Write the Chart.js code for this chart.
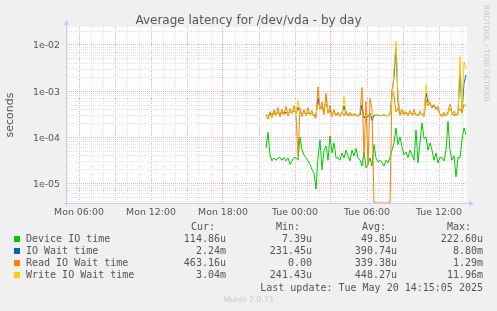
<!DOCTYPE html>
<html>
<head>
<meta charset="utf-8">
<script src="https://cdn.jsdelivr.net/npm/chart.js@4.4.1/dist/chart.umd.min.js"></script>
<style>
  html, body { margin:0; padding:0; }
  body { width:497px; height:311px; background:#f0f0f0; position:relative; overflow:hidden; font-family:"DejaVu Sans", sans-serif; }
  #c { position:absolute; left:0; top:0; }
  .t { position:absolute; white-space:pre; }
  #title { left:0; width:497px; top:13px; text-align:center; font-size:12px; color:#555; }
  #rrd { left:482px; top:5px; writing-mode:vertical-rl; font-size:7.5px; color:#c8c8c8; }
  .mono { font-family:"DejaVu Sans Mono", monospace; font-size:10px; color:#555; line-height:12px; }
  .sw { position:absolute; width:6px; height:6px; }
  .r { text-align:right; }
  #munin { left:0; width:497px; top:295px; text-align:center; font-size:7.6px; color:#c8c8c8; }
</style>
</head>
<body>
<canvas id="c" width="497" height="311"></canvas>
<div id="title" class="t">Average latency for /dev/vda - by day</div>
<div id="rrd" class="t">RRDTOOL / TOBI OETIKER</div>
<div id="legend"></div>
<div id="munin" class="t">Munin 2.0.73</div>
<script>
// ---------- data (values in microseconds) ----------
const seriesNames = ["Device IO time", "IO Wait time", "Read IO Wait time", "Write IO Wait time"];
const seriesColors = ["#00cc00", "#0066b3", "#ff8000", "#ffcc00"];
const startHour = 21 + 35/60;   // Mon 21:35 (hours since Mon 00:00)
const stepHours = 10/60;        // one sample every 10 minutes

const deviceIO = [59,130,42,31,36,32,36,37,32,37,31,36,26,31,37,36,32,102,53,42,36,31,26,20,17,7.6,37,88,20,53,65,32,107,46,76,36,36,32,46,36,53,40,31,53,40,58,36,32,24,48,22,26,36,24,70,36,29,32,29,24,32,28,37,53,76,160,70,102,62,42,48,37,53,42,32,145,28,76,206,95,102,53,76,53,32,46,28,37,36,31,53,223,53,32,40,14,37,36,88,160,115];
const ioWait = [290,300,310,320,330,330,340,320,340,330,350,320,360,340,380,330,450,340,320,350,310,340,340,320,300,300,700,420,450,380,650,350,380,310,340,310,320,300,330,480,320,300,310,300,300,310,290,300,500,260,300,280,330,231,300,300,310,290,300,310,290,300,310,900,2000,8800,600,340,320,360,330,320,340,310,320,320,300,330,310,320,900,600,520,460,480,440,400,310,300,310,300,330,500,320,300,310,320,3000,360,1500,2240];
const readIO = [300,250,360,270,400,300,440,280,410,320,470,290,420,330,490,300,40,440,280,400,290,440,310,380,280,260,1250,400,580,310,900,330,500,280,400,290,350,280,360,290,380,300,350,290,330,310,280,340,1200,40,600,25,700,400,0,0,0,0,0,0,0,0,0,1100,800,350,440,300,400,310,360,290,380,300,400,310,290,370,310,280,650,480,580,430,500,400,470,300,280,350,290,360,520,310,370,290,350,420,330,520,463.16];
const writeIO = [270,310,280,330,300,350,310,360,320,300,340,310,370,330,400,320,620,330,310,350,300,330,360,310,300,320,520,450,380,420,600,380,340,310,330,300,310,300,320,780,330,300,310,290,300,310,290,300,320,300,290,310,300,280,310,300,320,290,300,310,290,300,310,700,3000,11960,800,350,320,380,330,310,340,300,320,310,300,330,310,320,1400,700,550,480,520,460,400,300,290,310,300,320,480,310,290,300,320,5600,380,4400,3040];
const allSeries = [deviceIO, ioWait, readIO, writeIO];

// ---------- axis ticks ----------
const xTickHours = [6, 12, 18, 24, 30, 36];
const xTickLabels = ["Mon 06:00", "Mon 12:00", "Mon 18:00", "Tue 00:00", "Tue 06:00", "Tue 12:00"];
const yDecades = [-5, -4, -3, -2];
const yTickLabels = ["1e-05", "1e-04", "1e-03", "1e-02"];

// ---------- legend table ----------
const legendCur = ["114.86u", "2.24m", "463.16u", "3.04m"];
const legendMin = ["7.39u", "231.45u", "0.00", "241.43u"];
const legendAvg = ["49.85u", "390.74u", "339.38u", "448.27u"];
const legendMax = ["222.60u", "8.80m", "1.29m", "11.96m"];
const lastUpdate = "Last update: Tue May 20 14:15:05 2025";

// ---------- scale range ----------
const xMin = 5, xMax = 38 + 20/60;
const yMin = 3.8e-6, yMax = 0.0245;

function toPoints(arr) {
  return arr.map((v, i) => ({ x: startHour + i * stepHours, y: Math.max(v * 1e-6, yMin) }));
}

const isDecade = v => Math.abs(Math.log10(v) - Math.round(Math.log10(v))) < 1e-6;
const RED = "rgba(244,170,170,1)";
const GRAY = "rgba(222,222,222,1)";

const bgPlugin = {
  id: "bg",
  beforeDraw(chart) {
    const a = chart.chartArea, ctx = chart.ctx;
    ctx.save(); ctx.fillStyle = "#ffffff";
    ctx.fillRect(a.left, a.top, a.right - a.left, a.bottom - a.top);
    ctx.restore();
  },
  afterDraw(chart) {
    const a = chart.chartArea, ctx = chart.ctx;
    ctx.save();
    ctx.strokeStyle = "#c8ccf4"; ctx.fillStyle = "#c8ccf4"; ctx.lineWidth = 1;
    ctx.beginPath();
    ctx.moveTo(a.left - 0.5, a.bottom + 3); ctx.lineTo(a.left - 0.5, a.top - 3);
    ctx.moveTo(a.left - 3, a.bottom + 0.5); ctx.lineTo(a.right + 3, a.bottom + 0.5);
    ctx.stroke();
    ctx.beginPath();
    ctx.moveTo(a.left - 0.5, a.top - 7); ctx.lineTo(a.left - 3.5, a.top - 2); ctx.lineTo(a.left + 2.5, a.top - 2); ctx.closePath(); ctx.fill();
    ctx.beginPath();
    ctx.moveTo(a.right + 7, a.bottom + 0.5); ctx.lineTo(a.right + 2, a.bottom - 2.5); ctx.lineTo(a.right + 2, a.bottom + 3.5); ctx.closePath(); ctx.fill();
    ctx.restore();
  }
};

Chart.defaults.font.family = "'DejaVu Sans', sans-serif";
Chart.defaults.color = "#555";

const datasets = allSeries.map((arr, i) => ({
  label: seriesNames[i],
  data: toPoints(arr),
  borderColor: seriesColors[i],
  backgroundColor: seriesColors[i],
  borderWidth: 1,
  pointRadius: 0,
  tension: 0,
  order: 3 - i,
  clip: { left: 0, top: 0, right: 0, bottom: 1 }
}));

new Chart(document.getElementById("c"), {
  type: "line",
  data: { datasets },
  options: {
    responsive: false,
    animation: false,
    devicePixelRatio: 1,
    layout: { padding: { left: 0, right: 30, top: 27, bottom: 88 } },
    plugins: { legend: { display: false }, tooltip: { enabled: false }, title: { display: false } },
    scales: {
      x: {
        type: "linear", min: xMin, max: xMax,
        afterBuildTicks(scale) {
          const t = [];
          for (let h = Math.ceil(xMin); h <= Math.floor(xMax); h++) t.push({ value: h });
          scale.ticks = t;
        },
        afterFit(scale) { scale.height = 20; },
        ticks: {
          autoSkip: false, maxRotation: 0, padding: 4,
          font: { size: 9.4 }, color: "#555",
          callback(v) { const k = xTickHours.indexOf(v); return k >= 0 ? xTickLabels[k] : ""; }
        },
        grid: {
          drawTicks: false,
          color: ctx => (ctx.tick && ctx.tick.value % 3 === 0) ? RED : GRAY,
          lineWidth: 1
        },
        border: { display: false, dash: [1, 1] }
      },
      y: {
        type: "logarithmic", min: yMin, max: yMax,
        afterBuildTicks(scale) {
          const t = [];
          for (let e = -6; e <= -1; e++) for (let m = 1; m <= 9; m++) {
            const v = Number(m + "e" + e);
            if (v > yMin && v < yMax) t.push({ value: v });
          }
          scale.ticks = t;
        },
        afterFit(scale) { scale.width = 67; },
        ticks: {
          autoSkip: false, padding: 7, labelOffset: 1, font: { size: 9.4 }, color: "#555",
          callback(v) {
            if (!isDecade(v)) return "";
            const k = yDecades.indexOf(Math.round(Math.log10(v)));
            return k >= 0 ? yTickLabels[k] : "";
          }
        },
        grid: {
          drawTicks: false,
          color: ctx => (ctx.tick && isDecade(ctx.tick.value)) ? RED : GRAY,
          lineWidth: 1
        },
        border: { display: false, dash: [1, 1] },
        title: { display: true, text: "seconds", font: { size: 11 }, color: "#555", padding: { top: 4, bottom: 0 } }
      }
    }
  },
  plugins: [bgPlugin]
});

// ---------- HTML legend ----------
const lg = document.getElementById("legend");
function add(text, cls, style) {
  const d = document.createElement("div");
  d.className = cls; d.textContent = text; Object.assign(d.style, style); lg.appendChild(d); return d;
}
const headerTop = 221;
add("Cur:", "t mono", { left: "191px", top: headerTop + "px" });
add("Min:", "t mono", { left: "276px", top: headerTop + "px" });
add("Avg:", "t mono", { left: "362px", top: headerTop + "px" });
add("Max:", "t mono", { left: "447px", top: headerTop + "px" });
const colRight = [226, 312, 397, 483];
const cols = [legendCur, legendMin, legendAvg, legendMax];
seriesNames.forEach((name, i) => {
  const top = 233 + i * 12.1;
  const sw = document.createElement("div");
  sw.className = "sw"; sw.style.left = "14px"; sw.style.top = (top + 3) + "px"; sw.style.background = seriesColors[i];
  lg.appendChild(sw);
  add(name, "t mono", { left: "26px", top: top + "px" });
  cols.forEach((c, j) => {
    add(c[i], "t mono r", { left: (colRight[j] - 100) + "px", width: "100px", top: top + "px" });
  });
});
add(lastUpdate, "t mono r", { left: "183px", width: "300px", top: "282px" });
</script>
</body>
</html>
